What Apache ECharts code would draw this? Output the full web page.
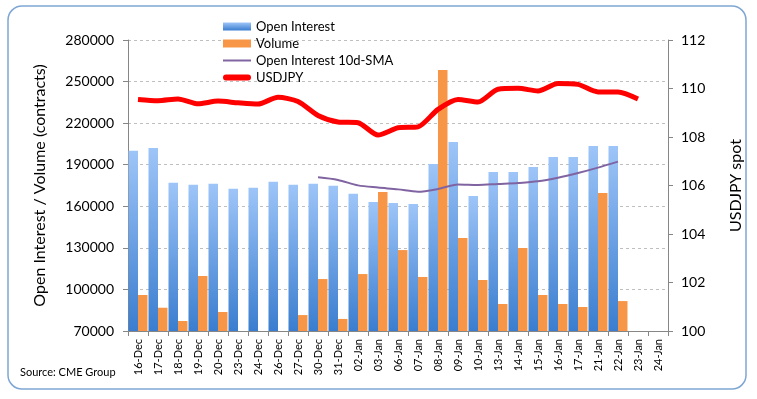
<!DOCTYPE html>
<html>
<head>
<meta charset="utf-8">
<script src="https://cdn.jsdelivr.net/npm/echarts@6/dist/echarts.min.js"></script>
<style>
  html, body { margin: 0; padding: 0; background: #fff; }
  #chart { width: 757px; height: 399px; }
</style>
</head>
<body>
<div id="chart"></div>
<script>
  // dates on the x axis
  var days = ['16-Dec', '17-Dec', '18-Dec', '19-Dec', '20-Dec', '23-Dec', '24-Dec', '26-Dec', '27-Dec',
    '30-Dec', '31-Dec', '02-Jan', '03-Jan', '06-Jan', '07-Jan', '08-Jan', '09-Jan', '10-Jan', '13-Jan',
    '14-Jan', '15-Jan', '16-Jan', '17-Jan', '21-Jan', '22-Jan', '23-Jan', '24-Jan'];

  var openInterest = [200000, 202000, 177000, 175600, 176300, 172700, 173400, 177700, 175600,
    176300, 174900, 169000, 163100, 162400, 161600, 190500, 206400, 167400, 184700,
    184700, 188300, 195600, 195600, 203500, 203500, null, null];

  var volume = [96000, 86800, 77200, 109700, 83700, null, null, null, 81500,
    107500, 78700, 111100, 170300, 128400, 109000, 258300, 137100, 106800, 89500,
    129900, 96000, 89500, 87300, 169600, 91600, null, null];

  var oiSma = [null, null, null, null, null, null, null, null, null,
    180900, 179000, 175100, 173500, 172200, 170500, 172500, 175800, 175400, 176100,
    176800, 178000, 180600, 184000, 187900, 192200, null, null];

  var usdjpy = [109.55, 109.50, 109.57, 109.37, 109.48, 109.41, 109.36, 109.64, 109.46,
    108.89, 108.62, 108.59, 108.08, 108.38, 108.42, 109.14, 109.55, 109.44, 109.97,
    110.01, 109.90, 110.21, 110.17, 109.86, 109.86, 109.57, null];

  var font = 'Lato, "Open Sans", sans-serif';
  var plain = function (v) { return String(v); };
  var chart = echarts.init(document.getElementById('chart'));

  chart.setOption({
    animation: false,
    textStyle: {fontFamily: font, color: '#000'},
    graphic: [{
      type: 'rect',
      shape: {x: 8, y: 6, width: 738, height: 383, r: 14},
      style: {fill: 'none', stroke: '#7ea6d4', lineWidth: 1.5}
    }, {
      type: 'text',
      left: 20,
      top: 367,
      style: {text: 'Source: CME Group', font: '11px ' + font, fill: '#000'}
    }],
    legend: {
      orient: 'vertical',
      left: 218,
      top: 15,
      itemWidth: 28,
      itemHeight: 8,
      itemGap: 4,
      textStyle: {fontSize: 13, fontFamily: font, color: '#000'},
      data: [
        {name: 'Open Interest', icon: 'rect'},
        {name: 'Volume', icon: 'rect'},
        {name: 'Open Interest 10d-SMA', icon: 'path://M0,0H28V2H0Z'},
        {name: 'USDJPY', icon: 'path://M3,0H25A3,3 0 0 1 25,6H3A3,3 0 0 1 3,0Z'}
      ]
    },
    grid: {left: 128, right: 89, top: 40, bottom: 68},
    xAxis: {
      type: 'category',
      data: days,
      boundaryGap: true,
      axisLine: {lineStyle: {color: '#868686'}},
      axisTick: {show: true, interval: 0, length: 5, lineStyle: {color: '#868686'}},
      axisLabel: {interval: 0, rotate: 90, fontSize: 11, color: '#000', fontFamily: font, margin: 8}
    },
    yAxis: [{
      type: 'value',
      min: 70000,
      max: 280000,
      interval: 30000,
      name: 'Open Interest / Volume (contracts)',
      nameLocation: 'middle',
      nameRotate: 90,
      nameGap: 80,
      nameTextStyle: {fontSize: 16, color: '#000', fontFamily: font},
      axisLine: {show: true, lineStyle: {color: '#868686'}},
      axisTick: {show: true, length: 5, lineStyle: {color: '#868686'}},
      axisLabel: {fontSize: 14, color: '#000', fontFamily: font, margin: 14, formatter: plain},
      splitLine: {lineStyle: {color: '#bfbfbf', type: [3, 3]}}
    }, {
      type: 'value',
      min: 100,
      max: 112,
      interval: 2,
      name: 'USDJPY spot',
      nameLocation: 'middle',
      nameRotate: 90,
      nameGap: 60,
      nameTextStyle: {fontSize: 16, color: '#000', fontFamily: font},
      axisLine: {show: true, lineStyle: {color: '#868686'}},
      axisTick: {show: true, length: 5, lineStyle: {color: '#868686'}},
      axisLabel: {fontSize: 14, color: '#000', fontFamily: font, margin: 13, formatter: plain},
      splitLine: {show: false}
    }],
    series: [{
      name: 'Open Interest',
      type: 'bar',
      data: openInterest,
      barGap: '0%',
      barCategoryGap: '5%',
      itemStyle: {
        color: new echarts.graphic.LinearGradient(0, 0, 0, 1, [
          {offset: 0, color: '#9ec5f8'},
          {offset: 1, color: '#3a7dcf'}
        ])
      }
    }, {
      name: 'Volume',
      type: 'bar',
      data: volume,
      itemStyle: {color: '#f79646'}
    }, {
      name: 'Open Interest 10d-SMA',
      type: 'line',
      data: oiSma,
      symbol: 'none',
      smooth: 0.3,
      lineStyle: {color: '#8064a2', width: 2},
      itemStyle: {color: '#8064a2'}
    }, {
      name: 'USDJPY',
      type: 'line',
      yAxisIndex: 1,
      data: usdjpy,
      symbol: 'none',
      smooth: 0.25,
      lineStyle: {color: '#ff0000', width: 5},
      itemStyle: {color: '#ff0000'}
    }]
  });
</script>
</body>
</html>
